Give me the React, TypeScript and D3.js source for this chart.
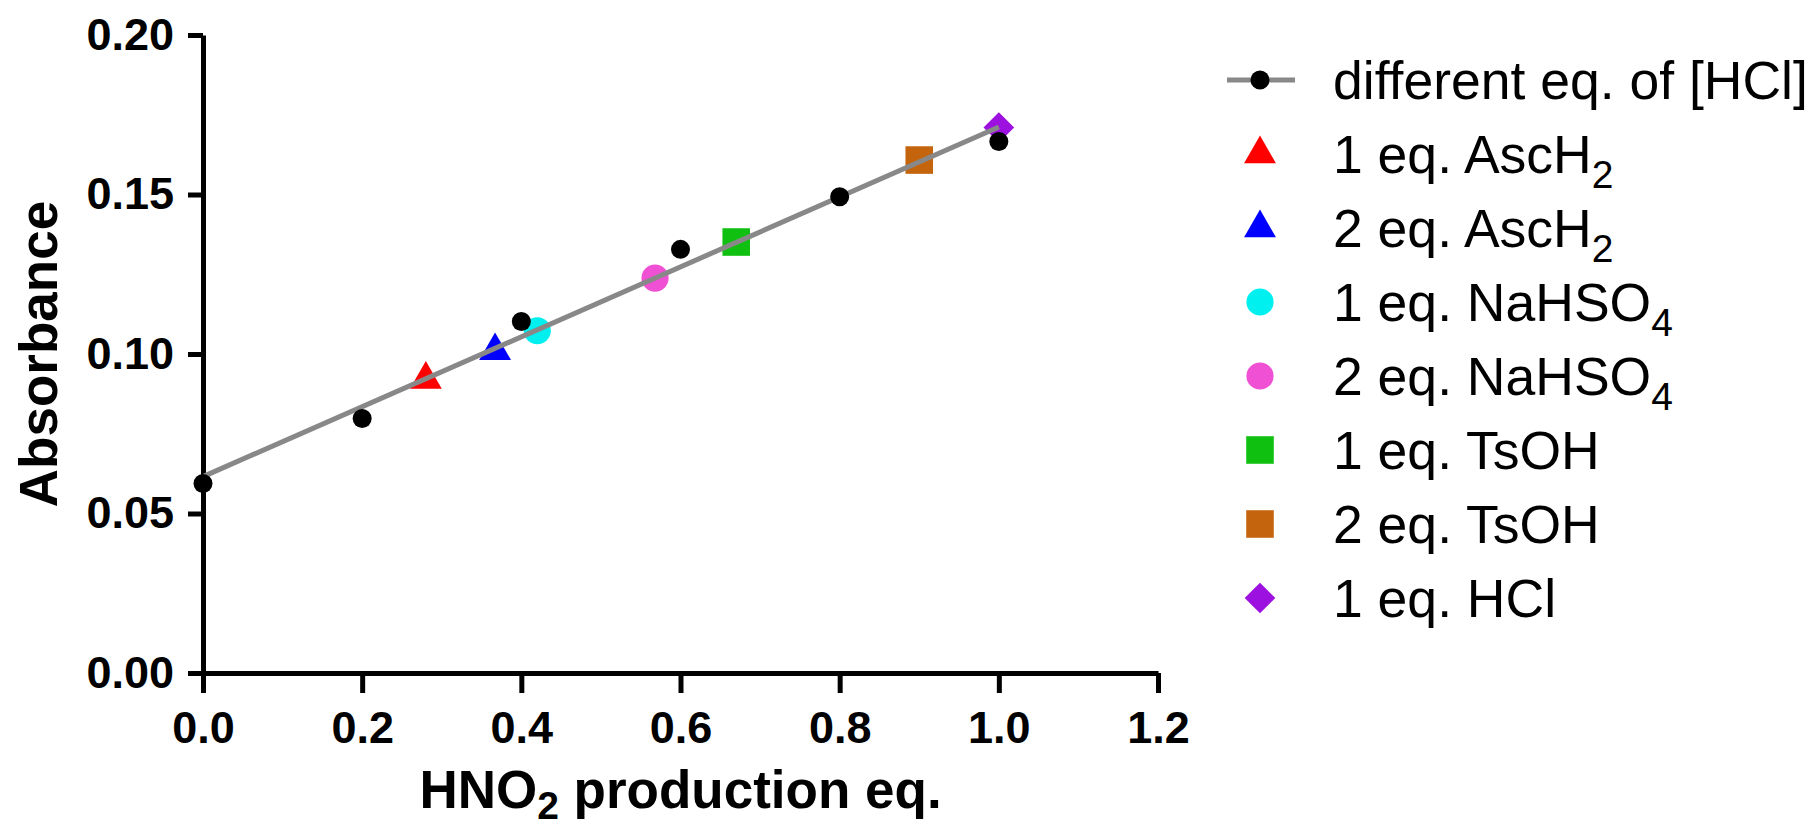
import React, { useRef, useEffect } from "react";
import * as d3 from "d3";

// calibration series: different eq. of [HCl]
const hclEq = [0, 0.2, 0.4, 0.6, 0.8, 1.0];
const hclAbs = [0.0594, 0.0798, 0.1102, 0.1328, 0.1493, 0.1666];

// single additive points
const addLabels = ["1 eq. AscH", "2 eq. AscH", "1 eq. NaHSO", "2 eq. NaHSO", "1 eq. TsOH", "2 eq. TsOH", "1 eq. HCl"];
const addSubs = ["2", "2", "4", "4", "", "", ""];
const addEq = [0.28, 0.367, 0.42, 0.568, 0.67, 0.9, 1.0];
const addAbs = [0.092, 0.101, 0.1073, 0.1238, 0.1351, 0.1608, 0.171];

const addColors = ["#ff0000", "#0000ff", "#00f0f0", "#f050d4", "#10c010", "#c4640c", "#9c10e0"];
const addShapes = ["triangle", "triangle", "circle", "circle", "square", "square", "diamond"];

const xTicks = [0, 0.2, 0.4, 0.6, 0.8, 1.0, 1.2];
const yTicks = [0, 0.05, 0.1, 0.15, 0.2];

const font = "'Liberation Sans', Arial, Helvetica, sans-serif";

const symbolFor = (shape: string) => {
  if (shape === "triangle") return d3.symbol().type(d3.symbolTriangle).size(440)();
  if (shape === "circle") return d3.symbol().type(d3.symbolCircle).size(580)();
  if (shape === "square") return d3.symbol().type(d3.symbolSquare).size(760)();
  return d3.symbol().type(d3.symbolSquare).size(470)();
};

const App = () => {
  const svgRef = useRef<SVGSVGElement>(null);

  useEffect(() => {
    const svg = d3.select(svgRef.current);
    svg.selectAll("*").remove();

    const x = d3.scaleLinear().domain([0, 1.2]).range([203, 1158]);
    const y = d3.scaleLinear().domain([0, 0.2]).range([673, 35]);

    // axes
    const gx = svg.append("g")
      .attr("transform", `translate(0,${y(0)})`)
      .call(d3.axisBottom(x).tickValues(xTicks).tickFormat(d3.format(".1f"))
        .tickSize(20).tickSizeOuter(0).tickPadding(18));
    const gy = svg.append("g")
      .attr("transform", `translate(${x(0)},0)`)
      .call(d3.axisLeft(y).tickValues(yTicks).tickFormat(d3.format(".2f"))
        .tickSize(15).tickSizeOuter(0).tickPadding(14));

    [gx, gy].forEach(g => {
      g.select(".domain").attr("stroke", "#000").attr("stroke-width", 5);
      g.selectAll(".tick line").attr("stroke", "#000").attr("stroke-width", 5);
      g.selectAll(".tick text")
        .attr("fill", "#000")
        .attr("font-family", font)
        .attr("font-weight", "bold")
        .attr("font-size", 45);
    });

    // axis titles
    const xt = svg.append("text")
      .attr("x", (x(0) + x(1.2)) / 2)
      .attr("y", 808)
      .attr("text-anchor", "middle")
      .attr("font-family", font)
      .attr("font-weight", "bold")
      .attr("font-size", 53);
    xt.append("tspan").text("HNO");
    xt.append("tspan").attr("font-size", 39).attr("dy", 11).text("2");
    xt.append("tspan").attr("dy", -11).text(" production eq.");

    svg.append("text")
      .attr("transform", `translate(57,${(y(0) + y(0.2)) / 2}) rotate(-90)`)
      .attr("text-anchor", "middle")
      .attr("font-family", font)
      .attr("font-weight", "bold")
      .attr("font-size", 53)
      .text("Absorbance");

    // additive markers
    svg.append("g")
      .selectAll("path")
      .data(addEq.map((e, i) => ({ e, a: addAbs[i], i })))
      .enter()
      .append("path")
      .attr("d", d => symbolFor(addShapes[d.i]))
      .attr("fill", d => addColors[d.i])
      .attr("transform", d => `translate(${x(d.e)},${y(d.a)})${addShapes[d.i] === "diamond" ? " rotate(45)" : ""}`);

    // linear fit of the HCl series
    const mx = d3.mean(hclEq) as number;
    const my = d3.mean(hclAbs) as number;
    const slope = d3.sum(hclEq, (v, i) => (v - mx) * (hclAbs[i] - my)) /
      d3.sum(hclEq, v => (v - mx) * (v - mx));
    const icpt = my - slope * mx;
    const [x0, x1] = d3.extent(hclEq) as [number, number];
    const line = d3.line<number>().x(v => x(v)).y(v => y(icpt + slope * v));
    svg.append("path")
      .attr("d", line([x0, x1]))
      .attr("fill", "none")
      .attr("stroke", "#888")
      .attr("stroke-width", 5);

    svg.append("g")
      .selectAll("circle")
      .data(hclEq.map((e, i) => ({ e, a: hclAbs[i] })))
      .enter()
      .append("circle")
      .attr("cx", d => x(d.e))
      .attr("cy", d => y(d.a))
      .attr("r", 9.5)
      .attr("fill", "#000");

    // legend
    const lx = 1260, ly = 80, step = 74, tx = 1333;
    const leg = svg.append("g").attr("font-family", font).attr("font-size", 53.5);
    leg.append("line")
      .attr("x1", lx - 33).attr("x2", lx + 35)
      .attr("y1", ly).attr("y2", ly)
      .attr("stroke", "#888").attr("stroke-width", 5);
    leg.append("circle").attr("cx", lx).attr("cy", ly).attr("r", 9.5).attr("fill", "#000");
    leg.append("text").attr("x", tx).attr("y", ly + 19).text("different eq. of [HCl]");

    addLabels.forEach((lab, i) => {
      const cy = ly + step * (i + 1);
      leg.append("path")
        .attr("d", symbolFor(addShapes[i]))
        .attr("fill", addColors[i])
        .attr("transform", `translate(${lx},${cy})${addShapes[i] === "diamond" ? " rotate(45)" : ""}`);
      const t = leg.append("text").attr("x", tx).attr("y", cy + 19);
      t.append("tspan").text(lab);
      if (addSubs[i]) t.append("tspan").attr("font-size", 39).attr("dy", 15).text(addSubs[i]);
    });
  }, []);

  return (
    <svg
      ref={svgRef}
      width={1809}
      height={827}
      style={{ position: "absolute", left: 0, top: 0, background: "#fff" }}
    />
  );
};

export default App;
